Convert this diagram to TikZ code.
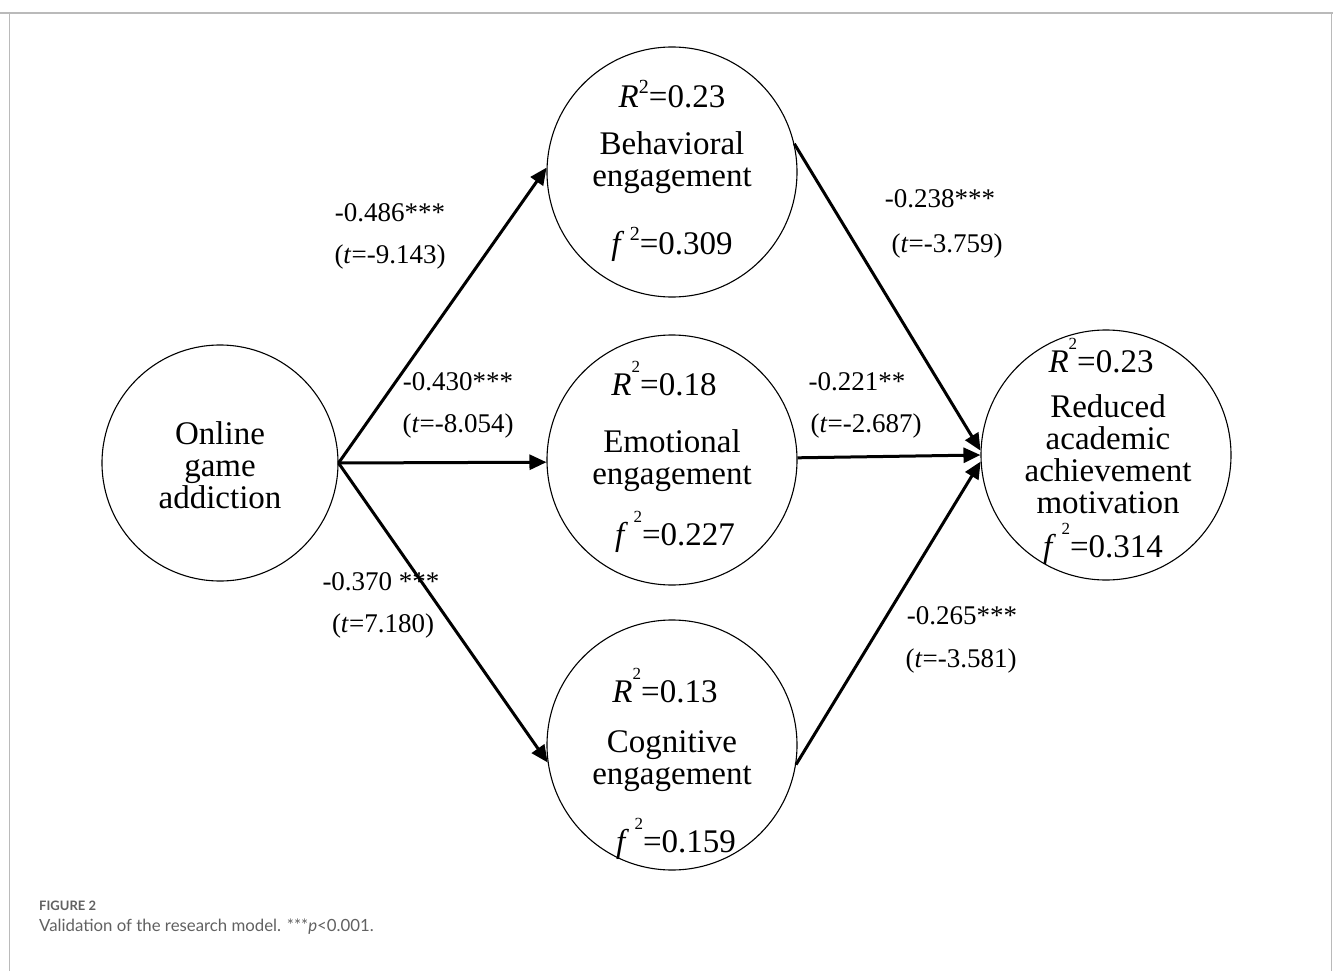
\documentclass[tikz,border=0pt]{standalone}
\usepackage{fontspec}
\setmainfont{Liberation Serif}
\newfontfamily\capfont{Lato}
\usetikzlibrary{arrows.meta}
\newcommand{\supnear}[1]{\raisebox{14pt}{\fontsize{20}{20}\selectfont #1}}
\newcommand{\suphigh}[1]{\raisebox{23pt}{\fontsize{17}{17}\selectfont #1}}
\begin{document}
\begin{tikzpicture}[x=1pt,y=-1pt,
  latent/.style={draw, circle, line width=1.1pt, inner sep=0pt, minimum size=250pt},
  ctext/.style={anchor=base, inner sep=0pt, font=\fontsize{33}{35}\selectfont},
  lab/.style={anchor=base, inner sep=0pt, font=\fontsize{27}{30}\selectfont},
  path/.style={line width=3pt, -{Triangle[length=17pt,width=15pt]}},
  frame/.style={draw=black!27}]
\useasboundingbox (0,0) rectangle (1333,971);
% frame
\coordinate (ftl) at (9.5,13);
\coordinate (ftr) at (1331.5,13);
\coordinate (fbl) at (9.5,971);
\coordinate (fbr) at (1331.5,971);
\draw[frame, line width=1.3pt] (fbl) -- (ftl);
\draw[frame, line width=1.5pt] (ftr) -- (fbr);
\draw[frame, line width=2.2pt] (0,13) -- (1333,13);

% latent variables
\node[latent, minimum size=236pt] (onl) at (220,463) {};
\node[latent] (beh) at (672,172) {};
\node[latent] (emo) at (672,460) {};
\node[latent] (cog) at (672,745) {};
\node[latent] (red) at (1106,455) {};

% texts inside
\node[ctext] (onl1) at (220,444) {Online};
\node[ctext] (onl2) at (220,476) {game};
\node[ctext] (onl3) at (220,508) {addiction};

\node[ctext] (beh0) at (672,108) {\textit{R}\supnear{2}=0.23};
\node[ctext] (beh1) at (672,154) {Behavioral};
\node[ctext] (beh2) at (672,186) {engagement};
\node[ctext] (beh3) at (672,254) {\textit{f}\,\supnear{2}=0.309};

\node[ctext] (emo0) at (664,395) {\textit{R}\suphigh{2}=0.18};
\node[ctext] (emo1) at (672,452) {Emotional};
\node[ctext] (emo2) at (672,484) {engagement};
\node[ctext] (emo3) at (675,545) {\textit{f}\,\suphigh{2}=0.227};

\node[ctext] (cog0) at (665,702) {\textit{R}\suphigh{2}=0.13};
\node[ctext] (cog1) at (672,752) {Cognitive};
\node[ctext] (cog2) at (672,784) {engagement};
\node[ctext] (cog3) at (676,852) {\textit{f}\,\suphigh{2}=0.159};

\node[ctext] (red0) at (1101,372) {\textit{R}\suphigh{2}=0.23};
\node[ctext] (red1) at (1108,417) {Reduced};
\node[ctext] (red2) at (1108,449) {academic};
\node[ctext] (red3) at (1108,481) {achievement};
\node[ctext] (red4) at (1108,513) {motivation};
\node[ctext] (red5) at (1103,557) {\textit{f}\,\suphigh{2}=0.314};

% paths
\draw[path] (onl.east) -- (beh.178);
\draw[path] (onl.east) -- (emo.181);
\draw[path] (onl.east) -- (cog.188);
\draw[path] (beh.13) -- (red.178);
\draw[path] (emo.1) -- (red.180);
\draw[path] (cog.-9) -- (red.183);

% path labels
\node[lab] (l1a) at (390,221) {-0.486***};
\node[lab] (l1b) at (390,263) {(\textit{t}=-9.143)};
\node[lab] (l2a) at (458,390) {-0.430***};
\node[lab] (l2b) at (458,432) {(\textit{t}=-8.054)};
\node[lab] (l3a) at (381,590) {-0.370 ***};
\node[lab] (l3b) at (383,632) {(\textit{t}=7.180)};
\node[lab] (l4a) at (940,207) {-0.238***};
\node[lab] (l4b) at (947,252) {(\textit{t}=-3.759)};
\node[lab] (l5a) at (857,390) {-0.221**};
\node[lab] (l5b) at (866,432) {(\textit{t}=-2.687)};
\node[lab] (l6a) at (962,624) {-0.265***};
\node[lab] (l6b) at (961,667) {(\textit{t}=-3.581)};

% caption
\node[anchor=base west, inner sep=0pt, text=black!62, font=\capfont\bfseries\fontsize{13}{14}\selectfont] (capt1) at (39,910) {FIGURE 2};
\node[anchor=base west, inner sep=0pt, text=black!62, font=\capfont\fontsize{16.8}{20}\selectfont] (capt2) at (39,931) {Validation of the research model. ***\textit{p}<0.001.};
\end{tikzpicture}
\end{document}
